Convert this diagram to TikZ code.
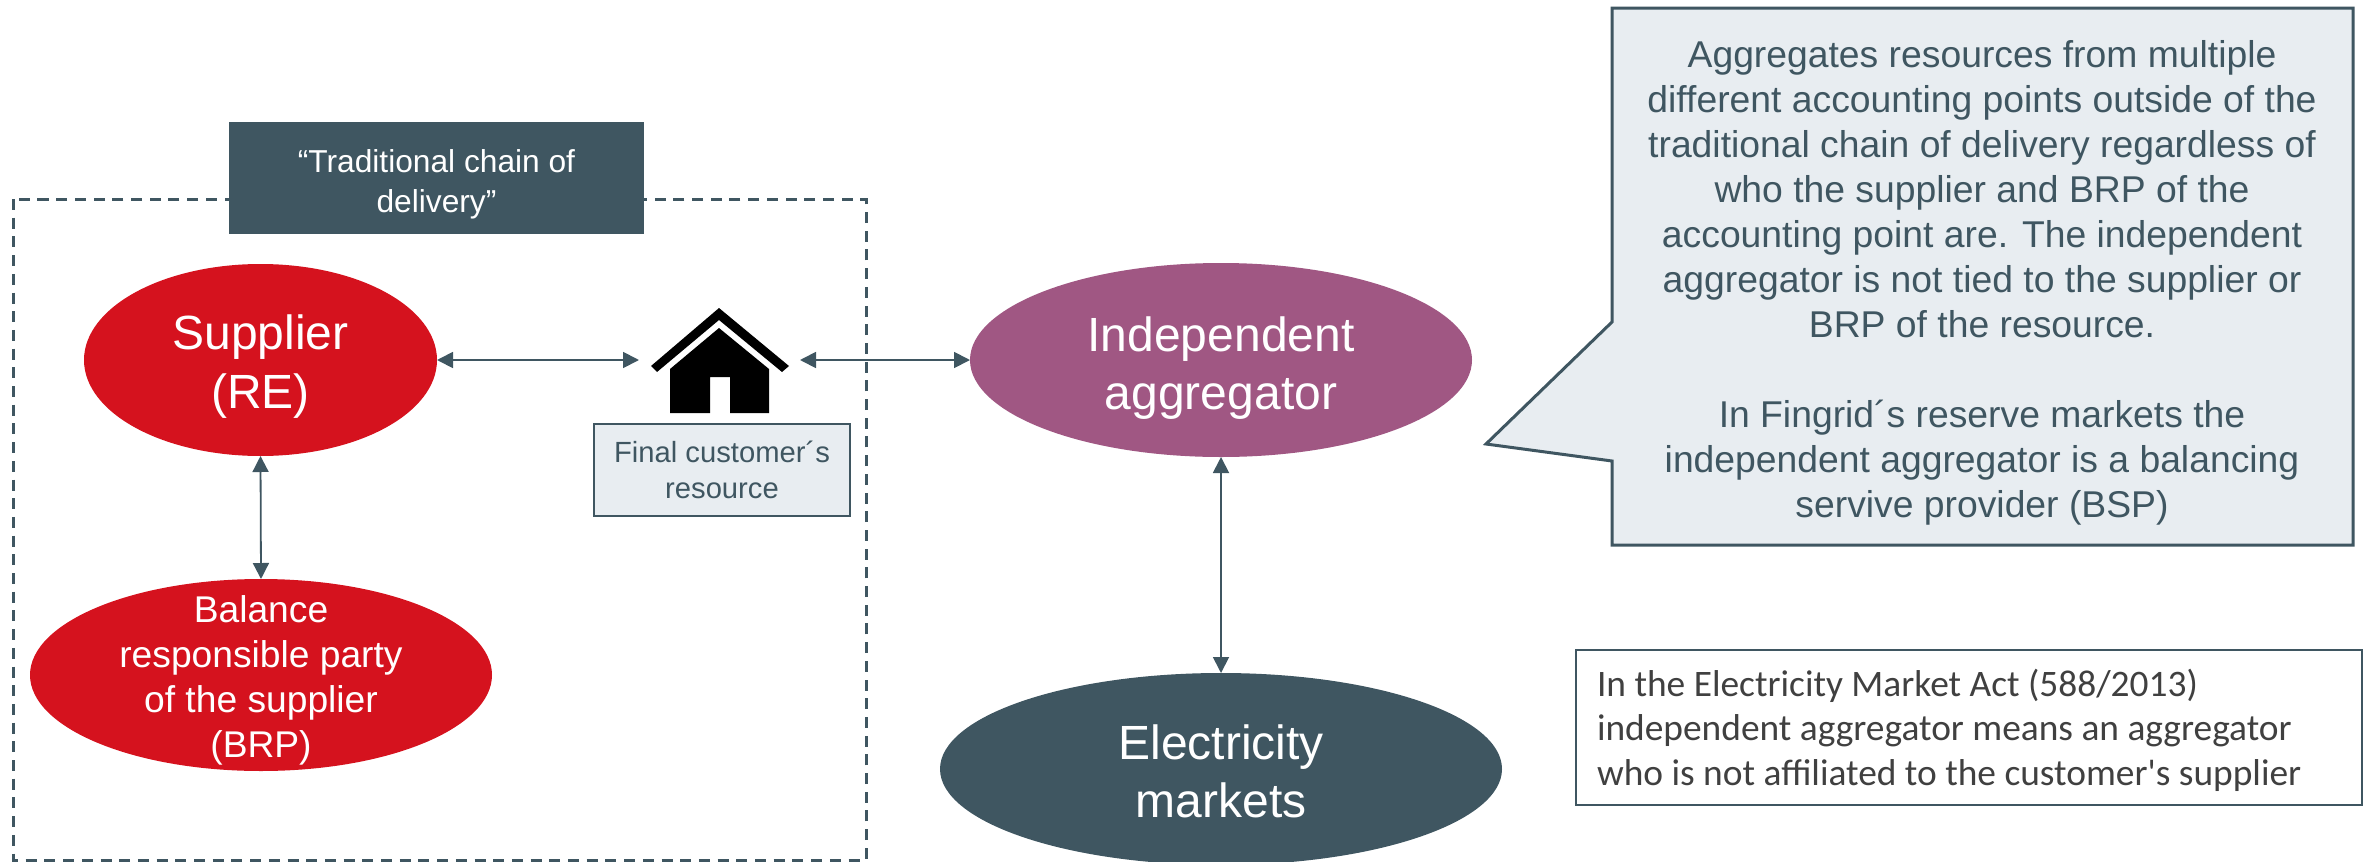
\documentclass[tikz,border=0pt]{standalone}
\usepackage{fontspec}
\setmainfont{Liberation Sans}
\newfontfamily\bodyfont{Liberation Sans}
\newfontfamily\notefont{Carlito}
\usetikzlibrary{arrows.meta,shapes.geometric}
\definecolor{slateC}{HTML}{3F5661}
\definecolor{redC}{HTML}{D5121E}
\definecolor{plumC}{HTML}{A05783}
\definecolor{paleC}{HTML}{E8EDF1}
\definecolor{inkC}{HTML}{404040}
\newcommand{\fsz}[2]{\bodyfont\fontsize{#1pt}{#2pt}\selectfont}
\newcommand{\nsz}[2]{\notefont\fontsize{#1pt}{#2pt}\selectfont}
\tikzset{
  x=1pt,y=-1pt,
  oval/.style={ellipse,inner sep=-60pt,outer sep=0pt,text=white,align=center,draw=none},
  biarrow/.style={draw=slateC,line width=1.8pt,{Triangle[length=16pt,width=16pt]}-{Triangle[length=16pt,width=16pt]}},
  panel/.style={inner sep=0pt,outer sep=0pt,align=center},
}
\begin{document}
\begin{tikzpicture}
\useasboundingbox (0,0) rectangle (2364,862);
% dashed frame
\draw[slateC,line width=3pt,dash pattern=on 11pt off 7.7pt] (13.5,199) rectangle (866,860);
% header
\node[panel,fill=slateC,minimum width=415pt,minimum height=112pt] (header) at (436.5,178) {};
\node[panel,text=white,font=\fsz{31.7}{40}] (headertext) at (436.5,184) {“Traditional chain of\\delivery”};
% ovals
\node[oval,fill=redC,minimum width=353pt,minimum height=192pt] (supplier) at (260.5,360) {};
\node[panel,text=white,font=\fsz{48}{59}] (suppliertext) at (260.5,367) {Supplier\\(RE)};
\node[oval,fill=redC,minimum width=462pt,minimum height=192pt] (brp) at (261,675) {};
\node[panel,text=white,font=\fsz{37.2}{45}] (brptext) at (261,680) {Balance\\responsible party\\of the supplier\\(BRP)};
\node[oval,fill=plumC,minimum width=502pt,minimum height=194pt] (indep) at (1221,360) {};
\node[panel,text=white,font=\fsz{48}{58}] (indeptext) at (1221,368) {Independent\\aggregator};
\node[oval,fill=slateC,minimum width=562pt,minimum height=192pt] (markets) at (1221,769) {};
\node[panel,text=white,font=\fsz{48}{58}] (marketstext) at (1221,771) {Electricity\\markets};
% house
\node[inner sep=0pt,outer sep=0pt,minimum width=161pt,minimum height=120pt] (house) at (719.5,360) {};
\fill[black] (719,308) -- (789,366) -- (782,372) -- (719,320) -- (657,372) -- (651,366) -- cycle;
\fill[black] (719,328) -- (769,369) -- (769,413) -- (730,413) -- (730,377) -- (710,377) -- (710,413) -- (670,413) -- (670,369) -- cycle;
% customer box
\node[panel,fill=paleC,draw=slateC,line width=2pt,text=slateC,minimum width=256pt,minimum height=92pt,font=\fsz{29.2}{36}] (customer) at (722,470) {Final customer´s\\resource};
% callout
\fill[paleC,draw=slateC,line width=3pt,line join=miter] (1612,8) -- (2353,8) -- (2353,545) -- (1612,545) -- (1612,461) -- (1486,444) -- (1612,322) -- cycle;
\node[panel,text=slateC,font=\fsz{37.3}{45}] (callout) at (1982,283) {Aggregates resources from multiple\\different accounting points outside of the\\traditional chain of delivery regardless of\\who the supplier and BRP of the\\accounting point are. The independent\\aggregator is not tied to the supplier or\\BRP of the resource.\\[45pt]In Fingrid´s reserve markets the\\independent aggregator is a balancing\\servive provider (BSP)};
% note
\node[draw=slateC,line width=2pt,fill=white,inner sep=0pt,outer sep=0pt,minimum width=786pt,minimum height=155pt] (notebox) at (1969,727.5) {};
\node[inner sep=0pt,outer sep=0pt,anchor=west,align=left,text=inkC,font=\nsz{37.4}{44.5}] (note) at (1597,730) {In the Electricity Market Act (588/2013)\\independent aggregator means an aggregator\\who is not affiliated to the customer's supplier};
% connectors
\draw[biarrow] (supplier.east) -- (house.west);
\draw[biarrow] (house.east) -- (indep.west);
\draw[biarrow] (supplier.south) -- (brp.north);
\draw[biarrow] (indep.south) -- (markets.north);
\end{tikzpicture}
\end{document}
